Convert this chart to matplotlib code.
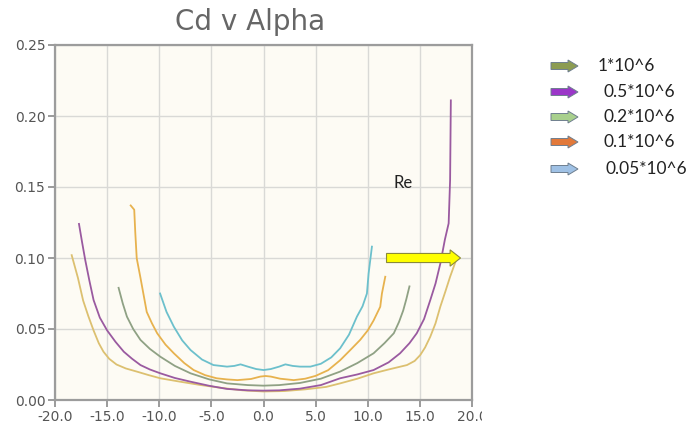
import matplotlib
matplotlib.use("Agg")
import matplotlib.pyplot as plt
from matplotlib.patches import FancyArrow, Rectangle

# ---- data ----
tan_alpha = [-18.4, -17.8, -17.3, -16.8, -16.3, -15.8, -15.35, -14.8, -14.1, -13.2, -12.15, -11.0,
             -9.9, -8.0, -6.0, -4.0, -2.0, 0.0, 2.0, 4.0, 6.0, 7.35, 9.0, 10.56, 12.0, 13.76,
             14.5, 15.04, 15.5, 16.0, 16.5, 16.96, 17.45, 17.9, 18.4]
tan_cd = [0.102, 0.086, 0.070, 0.059, 0.049, 0.040, 0.034, 0.029, 0.0250, 0.0222, 0.020, 0.0175,
          0.0153, 0.0129, 0.0105, 0.0085, 0.0068, 0.0060, 0.0063, 0.0075, 0.0092, 0.0117, 0.0150,
          0.0188, 0.0215, 0.0246, 0.0275, 0.0317, 0.037, 0.0446, 0.054, 0.0657, 0.0765, 0.0868,
          0.097]

purple_alpha = [-17.7, -17.4, -17.1, -16.7, -16.3, -15.7, -15.0, -14.2, -13.4, -12.6, -11.8, -10.9,
                -9.9, -8.5, -7.0, -5.2, -3.5, -1.5, 0.0, 1.5, 3.5, 5.5, 7.35, 9.0, 10.56, 12.0,
                13.1, 14.0, 14.7, 15.4, 16.0, 16.5, 16.96, 17.4, 17.76, 17.9, 17.97]
purple_cd = [0.124, 0.111, 0.0986, 0.084, 0.0704, 0.058, 0.049, 0.041, 0.034, 0.029, 0.0246, 0.0215,
             0.0188, 0.0155, 0.0129, 0.0100, 0.0078, 0.0068, 0.0066, 0.0068, 0.0080, 0.0105, 0.0153,
             0.0180, 0.0211, 0.0265, 0.0329, 0.040, 0.047, 0.057, 0.0704, 0.082, 0.096, 0.113,
             0.1244, 0.155, 0.211]

green_alpha = [-13.9, -13.5, -13.1, -12.5, -11.8, -10.9, -9.9, -8.5, -7.0, -5.2, -3.5, -1.5, 0.0,
               1.5, 3.5, 5.5, 7.35, 9.0, 10.56, 11.6, 12.5, 13.0, 13.4, 13.7, 14.0]
green_cd = [0.079, 0.068, 0.0587, 0.050, 0.0423, 0.036, 0.0305, 0.024, 0.0188, 0.0145, 0.0117,
            0.0105, 0.0101, 0.0105, 0.0120, 0.0150, 0.020, 0.026, 0.0329, 0.040, 0.047, 0.055,
            0.063, 0.071, 0.080]

orange_alpha = [-12.74, -12.4, -12.3, -12.16, -11.8, -11.2, -10.7, -10.2, -9.4, -8.6, -7.6, -6.7,
                -5.6, -4.5, -3.5, -2.5, -1.2, -0.3, 0.2, 0.7, 1.6, 2.9, 4.0, 5.0, 6.2, 7.35, 8.3,
                9.27, 10.0, 10.56, 11.2, 11.36, 11.68]
orange_cd = [0.137, 0.134, 0.118, 0.0998, 0.086, 0.062, 0.054, 0.047, 0.039, 0.0329, 0.026, 0.0211,
             0.0175, 0.0153, 0.0145, 0.0140, 0.0148, 0.0165, 0.0169, 0.0165, 0.0150, 0.0140,
             0.0150, 0.0170, 0.021, 0.028, 0.035, 0.0423, 0.049, 0.056, 0.0657, 0.075, 0.0868]

teal_alpha = [-9.92, -9.3, -8.6, -7.8, -7.0, -5.9, -4.8, -3.5, -2.8, -2.2, -1.5, -0.7, 0.0, 0.7,
              1.5, 2.1, 2.8, 3.5, 4.5, 5.5, 6.5, 7.35, 8.2, 8.96, 9.5, 9.92, 10.08, 10.4]
teal_cd = [0.075, 0.062, 0.0516, 0.042, 0.0352, 0.0285, 0.0246, 0.0235, 0.0240, 0.0251, 0.0235,
           0.0218, 0.0211, 0.0218, 0.0235, 0.0251, 0.0240, 0.0235, 0.0235, 0.0255, 0.030, 0.0364,
           0.046, 0.0587, 0.066, 0.075, 0.089, 0.108]

legend_labels = ["1*10^6", "0.5*10^6", "0.2*10^6", "0.1*10^6", "0.05*10^6"]
legend_colors = ["#8c9c52", "#9b36c8", "#a8d08d", "#e2793a", "#9fc1e5"]

x_ticks = [-20, -15, -10, -5, 0, 5, 10, 15, 20]
y_ticks = [0.00, 0.05, 0.10, 0.15, 0.20, 0.25]

# ---- figure ----
W, H = 689, 425
fig = plt.figure(figsize=(W / 100, H / 100), dpi=100)
fig.patch.set_facecolor("white")
ax = fig.add_axes([55 / W, 1 - 400 / H, (472 - 55) / W, (400 - 45) / H])
ax.set_facecolor("#fdfbf4")

series = [
    (tan_alpha, tan_cd, "#dcc070"),
    (purple_alpha, purple_cd, "#9a5aa0"),
    (green_alpha, green_cd, "#8fa184"),
    (orange_alpha, orange_cd, "#e7b24e"),
    (teal_alpha, teal_cd, "#6cc0cc"),
]
for a, c, col in series:
    ax.plot(a, c, color=col, lw=1.3, solid_joinstyle="round", zorder=3)

ax.set_xlim(-20, 20)
ax.set_ylim(0, 0.25)
ax.set_xticks(x_ticks)
ax.set_yticks(y_ticks)
ax.set_xticklabels([f"{v:.1f}" for v in x_ticks])
ax.set_yticklabels([f"{v:.2f}" for v in y_ticks])
ax.grid(True, color="#d9d9d6", lw=1.0, zorder=0)
ax.tick_params(axis="both", colors="#8a8a8a", labelcolor="#555555", labelsize=10,
               length=5, width=1.2, direction="out")
ax.tick_params(axis="x", pad=2)
ax.tick_params(axis="y", pad=2)
for s in ax.spines.values():
    s.set_color("#9c9c9c")
    s.set_linewidth(1.6)

# Re arrow
ax.add_patch(FancyArrow(11.8, 0.10, 6.1, 0, width=0.0064, head_width=0.0115,
                        head_length=1.0, length_includes_head=False,
                        facecolor="#ffff00", edgecolor="#8a8a3a", lw=0.8, zorder=5))
ax.text(12.5, 0.153, "Re", fontsize=12, color="#222222", family="Lato",
        ha="left", va="center", zorder=5)

# title
fig.text(250 / W, 1 - 22 / H, "Cd v Alpha", fontsize=20, color="#666666",
         ha="center", va="center", family="DejaVu Sans")

# legend of arrows
rows_y = [66, 92, 117, 142, 169]
text_x = [598, 603, 603, 603, 605]
for yy, lab, col, tx in zip(rows_y, legend_labels, legend_colors, text_x):
    fy = 1 - yy / H
    fig.add_artist(FancyArrow(551 / W, fy, 17 / W, 0, width=7 / H, head_width=12 / H,
                              head_length=10 / W, transform=fig.transFigure,
                              facecolor=col, edgecolor="#6f7f8f", lw=0.7))
    fig.text(tx / W, fy, lab, fontsize=12.5, color="#222222", family="Lato",
             ha="left", va="center")

# crop of the original chart image on the right edge
fig.add_artist(Rectangle((482 / W, 0), 30 / W, 22 / H, transform=fig.transFigure,
                         facecolor="white", edgecolor="none", zorder=10))

fig.savefig("out.png", dpi=100)
